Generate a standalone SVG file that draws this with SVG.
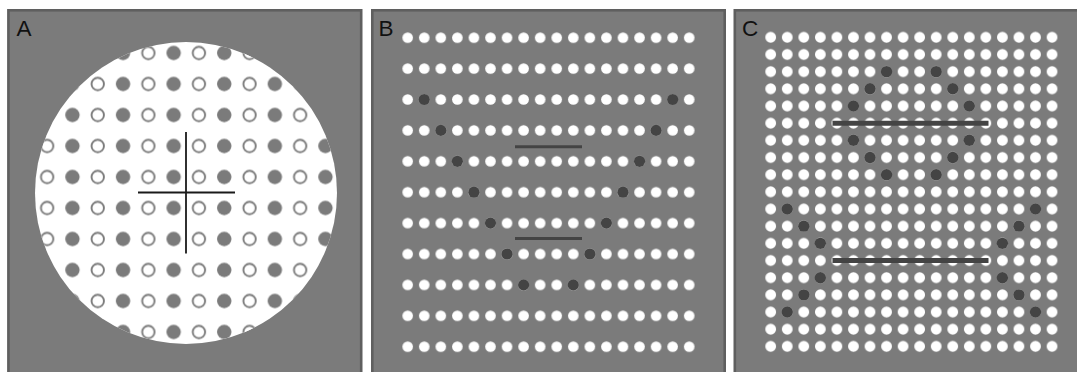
<svg xmlns="http://www.w3.org/2000/svg" width="1077" height="372" viewBox="0 0 1077 372">
  <style>
    .panel { fill: #7b7b7b; stroke: #5f5f5f; stroke-width: 2.6; }
    .label { font-family: "Liberation Sans", Arial, sans-serif; font-size: 22.5px; fill: #111; }
    .dark { fill: #444444; }
    .bar { stroke: #444444; stroke-linecap: butt; }
    .cross { stroke: #1a1a1a; stroke-width: 1.8; }
  </style>
  <defs>
    <pattern id="patA" patternUnits="userSpaceOnUse" x="34.5" y="37.5" width="50.6" height="31">
      <circle cx="12.65" cy="15.5" r="6.2" fill="#ffffff" stroke="#7b7b7b" stroke-width="1.9"/>
      <circle cx="37.95" cy="15.5" r="7.2" fill="#7b7b7b"/>
    </pattern>
    <pattern id="patB" patternUnits="userSpaceOnUse" x="399.42" y="22.25" width="16.56" height="30.9">
      <circle cx="8.28" cy="15.45" r="5.3" fill="#ffffff"/>
    </pattern>
    <pattern id="patC" patternUnits="userSpaceOnUse" x="762.425" y="28.715" width="16.55" height="17.17">
      <circle cx="8.275" cy="8.585" r="5.4" fill="#ffffff"/>
    </pattern>
  </defs>
  <rect x="0" y="0" width="1077" height="372" fill="#ffffff"/>

  <g id="panelA">
    <rect class="panel" x="8.4" y="10.3" width="352.8" height="380"/>
    <circle cx="186" cy="193" r="151" fill="#ffffff"/>
    <circle cx="186" cy="193" r="151" fill="url(#patA)"/>
    <line class="cross" x1="186" y1="132" x2="186" y2="253.5"/>
    <line class="cross" x1="138" y1="192.5" x2="235" y2="192.5"/>
    <text class="label" x="16.5" y="36">A</text>
  </g>

  <g id="panelB">
    <rect class="panel" x="372.3" y="10.3" width="352.4" height="380"/>
    <rect x="399.42" y="22.25" width="298.08" height="339.9" fill="url(#patB)"/>
    <g class="dark">
      <circle cx="424.26" cy="99.5" r="5.6"/><circle cx="672.66" cy="99.5" r="5.6"/>
      <circle cx="440.82" cy="130.4" r="5.6"/><circle cx="656.1" cy="130.4" r="5.6"/>
      <circle cx="457.38" cy="161.3" r="5.6"/><circle cx="639.54" cy="161.3" r="5.6"/>
      <circle cx="473.94" cy="192.2" r="5.6"/><circle cx="622.98" cy="192.2" r="5.6"/>
      <circle cx="490.5" cy="223.1" r="5.6"/><circle cx="606.42" cy="223.1" r="5.6"/>
      <circle cx="507.06" cy="254" r="5.6"/><circle cx="589.86" cy="254" r="5.6"/>
      <circle cx="523.62" cy="284.9" r="5.6"/><circle cx="573.3" cy="284.9" r="5.6"/>
    </g>
    <line class="bar" x1="515" y1="146.7" x2="582" y2="146.7" stroke-width="3"/>
    <line class="bar" x1="515" y1="238.5" x2="582" y2="238.5" stroke-width="3"/>
    <text class="label" x="378.5" y="36">B</text>
  </g>

  <g id="panelC">
    <rect class="panel" x="734.8" y="10.3" width="360" height="380"/>
    <rect x="762.425" y="28.715" width="297.9" height="326.23" fill="url(#patC)"/>
    <g class="dark">
      <circle cx="886.55" cy="71.64" r="5.7"/><circle cx="936.2" cy="71.64" r="5.7"/>
      <circle cx="870" cy="88.81" r="5.7"/><circle cx="952.75" cy="88.81" r="5.7"/>
      <circle cx="853.45" cy="105.98" r="5.7"/><circle cx="969.3" cy="105.98" r="5.7"/>
      <circle cx="853.45" cy="140.32" r="5.7"/><circle cx="969.3" cy="140.32" r="5.7"/>
      <circle cx="870" cy="157.49" r="5.7"/><circle cx="952.75" cy="157.49" r="5.7"/>
      <circle cx="886.55" cy="174.66" r="5.7"/><circle cx="936.2" cy="174.66" r="5.7"/>
      <circle cx="787.25" cy="209" r="5.7"/><circle cx="1035.5" cy="209" r="5.7"/>
      <circle cx="803.8" cy="226.17" r="5.7"/><circle cx="1018.95" cy="226.17" r="5.7"/>
      <circle cx="820.35" cy="243.34" r="5.7"/><circle cx="1002.4" cy="243.34" r="5.7"/>
      <circle cx="820.35" cy="277.68" r="5.7"/><circle cx="1002.4" cy="277.68" r="5.7"/>
      <circle cx="803.8" cy="294.85" r="5.7"/><circle cx="1018.95" cy="294.85" r="5.7"/>
      <circle cx="787.25" cy="312.02" r="5.7"/><circle cx="1035.5" cy="312.02" r="5.7"/>
    </g>
    <line class="bar" x1="832.5" y1="123.2" x2="988.5" y2="123.2" stroke-width="5"/>
    <line class="bar" x1="832.5" y1="260.4" x2="988.5" y2="260.4" stroke-width="5"/>
    <text class="label" x="742" y="36">C</text>
  </g>
</svg>
